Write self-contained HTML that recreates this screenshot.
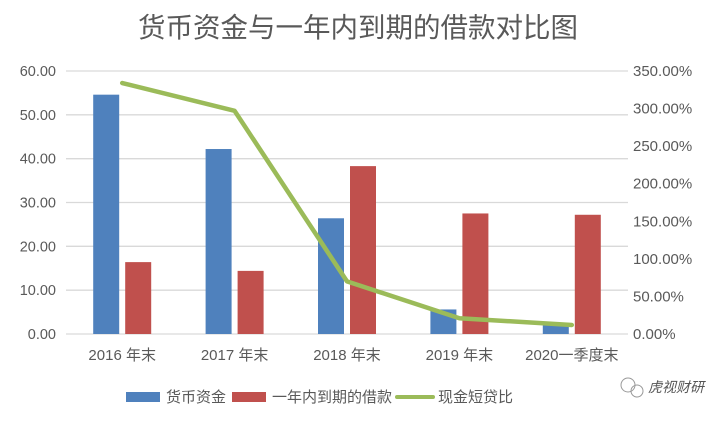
<!DOCTYPE html>
<html><head><meta charset="utf-8"><style>
body{margin:0;background:#fff;}
svg text{font-family:"Liberation Sans","Noto Sans CJK SC",sans-serif;}
</style></head><body>
<svg id="chart" width="712" height="418" xmlns="http://www.w3.org/2000/svg">
<rect width="712" height="418" fill="#fff"/>
<text x="358" y="37" text-anchor="middle" font-size="27.5" fill="#595959">货币资金与一年内到期的借款对比图</text>
<g id="grid"></g><g id="bars"></g><g id="line"></g><g id="labels"></g>
<g>
<rect x="126" y="392" width="34" height="10" fill="#4F81BD"/>
<text x="166" y="402" font-size="15" fill="#595959">货币资金</text>
<rect x="232" y="392" width="34" height="10" fill="#C0504D"/>
<text x="272" y="402" font-size="15" fill="#595959">一年内到期的借款</text>
<line x1="397" y1="397" x2="433" y2="397" stroke="#9BBB59" stroke-width="4" stroke-linecap="round"/>
<text x="438" y="402" font-size="15" fill="#595959">现金短贷比</text>
</g>
<g>
<circle cx="628" cy="385" r="7" fill="none" stroke="#999" stroke-width="1"/>
<circle cx="637" cy="391" r="6" fill="none" stroke="#999" stroke-width="1"/>
<text x="648" y="392" font-size="14" fill="#555" font-style="italic">虎视财研</text>
</g>
</svg>
<script>
const categories=["2016 年末","2017 年末","2018 年末","2019 年末","2020一季度末"];
const cashValues=[54.6,42.2,26.4,5.6,2.5];
const loanValues=[16.4,14.4,38.3,27.5,27.2];
const ratioValues=[334,297,70,21,12];
const leftTicks=[0,10,20,30,40,50,60];
const rightTicks=[0,50,100,150,200,250,300,350];
const NS="http://www.w3.org/2000/svg";
const x0=66,x1=628,y0=334,y1=71;
const band=(x1-x0)/categories.length;
const cx=i=>x0+band*(i+0.5);
const yL=v=>y0-(v/60)*(y0-y1);
const yR=v=>y0-(v/350)*(y0-y1);
function mk(tag,attrs,parent){const e=document.createElementNS(NS,tag);for(const k in attrs)e.setAttribute(k,attrs[k]);parent.appendChild(e);return e;}
const grid=document.getElementById('grid'),bars=document.getElementById('bars'),line=document.getElementById('line'),labels=document.getElementById('labels');
leftTicks.forEach(t=>{
 const l=mk('line',{x1:x0,x2:x1,y1:yL(t),y2:yL(t),stroke:'#D9D9D9','stroke-width':1.3},grid);
 
 
 const tx=mk('text',{x:56,y:yL(t)+5,'text-anchor':'end','font-size':14.5,fill:'#595959'},labels);
 tx.textContent=t.toFixed(2);
 
 
});
rightTicks.forEach(t=>{
 const tx=mk('text',{x:633,y:yR(t)+5,'font-size':15,fill:'#595959'},labels);
 tx.textContent=t.toFixed(2)+'%';
 
 
});
categories.forEach((c,i)=>{
 const b=mk('rect',{x:cx(i)-29,y:yL(cashValues[i]),width:26,height:y0-yL(cashValues[i]),fill:'#4F81BD'},bars);
 
 
 const r=mk('rect',{x:cx(i)+3,y:yL(loanValues[i]),width:26,height:y0-yL(loanValues[i]),fill:'#C0504D'},bars);
 
 
 const tx=mk('text',{x:cx(i),y:360,'text-anchor':'middle','font-size':15,fill:'#595959'},labels);
 tx.textContent=c;
 
 
});
const pl=mk('polyline',{points:ratioValues.map((v,i)=>cx(i)+','+yR(v)).join(' '),fill:'none',stroke:'#9BBB59','stroke-width':4.5,'stroke-linecap':'round','stroke-linejoin':'round'},line);


</script>
</body></html>
